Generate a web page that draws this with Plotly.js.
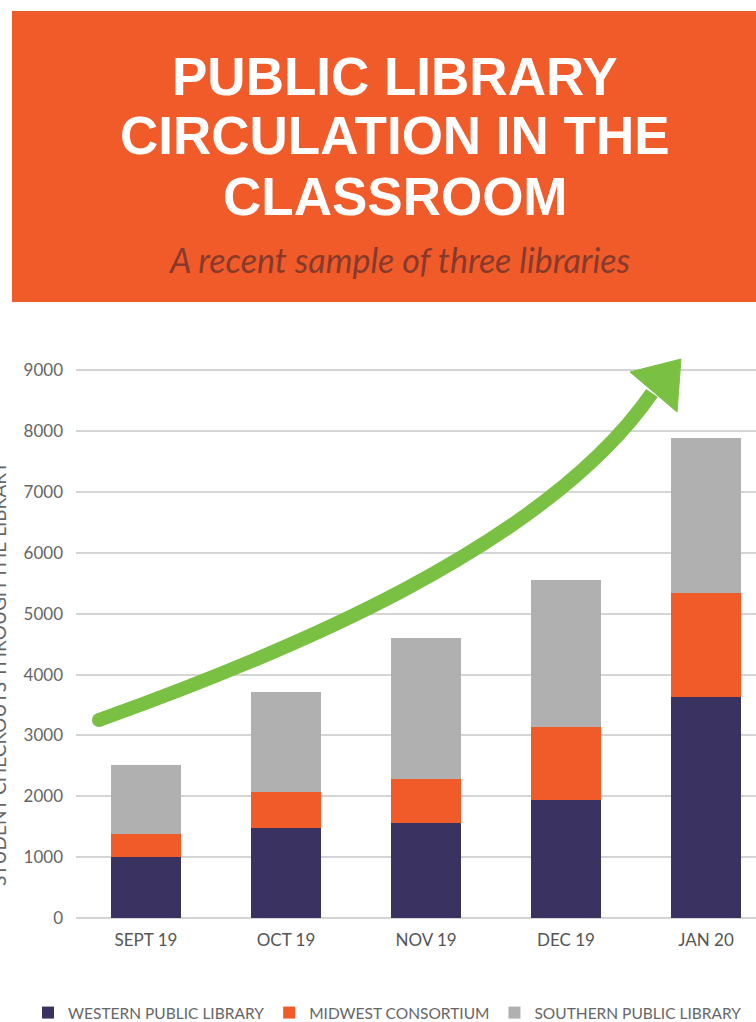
<!DOCTYPE html>
<html>
<head>
<meta charset="utf-8">
<script src="https://cdn.plot.ly/plotly-3.0.1.min.js"></script>
<style>html,body{margin:0;padding:0;background:#fff;}#chart{width:756px;height:1022px;}</style>
</head>
<body>
<div id="chart"></div>
<script>
// ---- data ----
const months = ['SEPT 19', 'OCT 19', 'NOV 19', 'DEC 19', 'JAN 20'];
const western = [1000, 1480, 1560, 1940, 3630];
const midwest = [380, 590, 720, 1200, 1710];
const southern = [1140, 1650, 2320, 2410, 2540];
const seriesNames = ['WESTERN PUBLIC LIBRARY', 'MIDWEST CONSORTIUM', 'SOUTHERN PUBLIC LIBRARY'];
const yTicks = [0, 1000, 2000, 3000, 4000, 5000, 6000, 7000, 8000, 9000];
const titleLines = ['PUBLIC LIBRARY', 'CIRCULATION IN THE', 'CLASSROOM'];
const subtitle = 'A recent sample of three libraries';
const yTitle = 'STUDENT CHECKOUTS THROUGH THE LIBRARY';

// ---- layout helpers (pixel -> paper) ----
const W = 756, H = 1022, ML = 76, MR = 0, MT = 352, MB = 104;
const PW = W - ML - MR, PH = H - MT - MB;
const px = p => (p - ML) / PW;
const py = p => (H - MB - p) / PH;

const colors = ['#3A3361', '#F15A29', '#B0B0B0'];
const vals = [western, midwest, southern];
const traces = vals.map((v, i) => ({
  type: 'bar', x: months, y: v, name: seriesNames[i],
  marker: {color: colors[i], line: {width: 0}},
  hoverinfo: 'skip'
}));

const green = '#7AC143';
const annotations = [];
const titleY = [76, 136, 196];
titleLines.forEach((t, i) => annotations.push({
  xref: 'paper', yref: 'paper', x: px(395), y: py(titleY[i]), xanchor: 'center', yanchor: 'middle',
  text: t, showarrow: false,
  font: {family: 'Liberation Sans', size: 53, color: '#FFFFFF', weight: 700}
}));
annotations.push({
  xref: 'paper', yref: 'paper', x: px(399), y: py(259), xanchor: 'center', yanchor: 'middle',
  text: '<i>' + subtitle + '</i>', showarrow: false,
  font: {family: 'Lato', size: 34, color: '#873A2C'}
});
annotations.push({
  xref: 'paper', yref: 'paper', x: px(-2), y: py(674), xanchor: 'center', yanchor: 'middle',
  text: yTitle, textangle: -90, showarrow: false,
  font: {family: 'Lato', size: 19, color: '#666666'}
});

const shapes = [
  {type: 'rect', xref: 'paper', yref: 'paper', x0: px(12), x1: px(760), y0: py(302), y1: py(11),
   fillcolor: '#F15A29', line: {width: 0}, layer: 'below'},
  // decorative trend arrow (data coordinates: category index, value)
  {type: 'path', xref: 'x', yref: 'y', layer: 'above',
   path: 'M -0.336 3253 C 0.957 4321 2.85 6080 3.614 8626',
   line: {color: green, width: 14}, fillcolor: 'rgba(0,0,0,0)'},
  {type: 'path', xref: 'x', yref: 'y', layer: 'above',
   path: 'M 3.821 9185 L 3.457 8971 L 3.793 8314 Z',
   line: {color: green, width: 1}, fillcolor: green},
  {type: 'circle', xref: 'x', yref: 'y', xsizemode: 'pixel', ysizemode: 'pixel',
   xanchor: -0.336, yanchor: 3253, x0: -7, x1: 7, y0: -7, y1: 7,
   line: {width: 0}, fillcolor: green, layer: 'above'}
];

const layout = {
  width: W, height: H,
  margin: {l: ML, r: MR, t: MT, b: MB, pad: 0, autoexpand: false},
  paper_bgcolor: '#FFFFFF', plot_bgcolor: '#FFFFFF',
  barmode: 'stack', bargap: 0.5,
  showlegend: true,
  legend: {orientation: 'h', x: px(28), xanchor: 'left', y: py(1013), yanchor: 'middle',
           font: {family: 'Lato', size: 15.5, color: '#666666'}, itemwidth: 30, traceorder: 'normal',
           bgcolor: 'rgba(0,0,0,0)'},
  xaxis: {type: 'category', range: [-0.5, 4.357], showgrid: false, zeroline: false, showline: false,
          ticks: '', ticklabelstandoff: 10, automargin: false,
          tickfont: {family: 'Lato', size: 17, color: '#555555'}, fixedrange: true},
  yaxis: {range: [0, 9300], tickmode: 'array', tickvals: yTicks, ticktext: yTicks.map(String),
          showgrid: true, gridcolor: '#D5D5D5', gridwidth: 2, zeroline: true, zerolinecolor: '#D5D5D5',
          zerolinewidth: 2, showline: false, ticks: '', ticklabelstandoff: 12, automargin: false,
          tickfont: {family: 'Lato', size: 17, color: '#666666'}, fixedrange: true},
  annotations: annotations,
  shapes: shapes
};

Plotly.newPlot('chart', traces, layout, {displayModeBar: false, staticPlot: true});
</script>
</body>
</html>
